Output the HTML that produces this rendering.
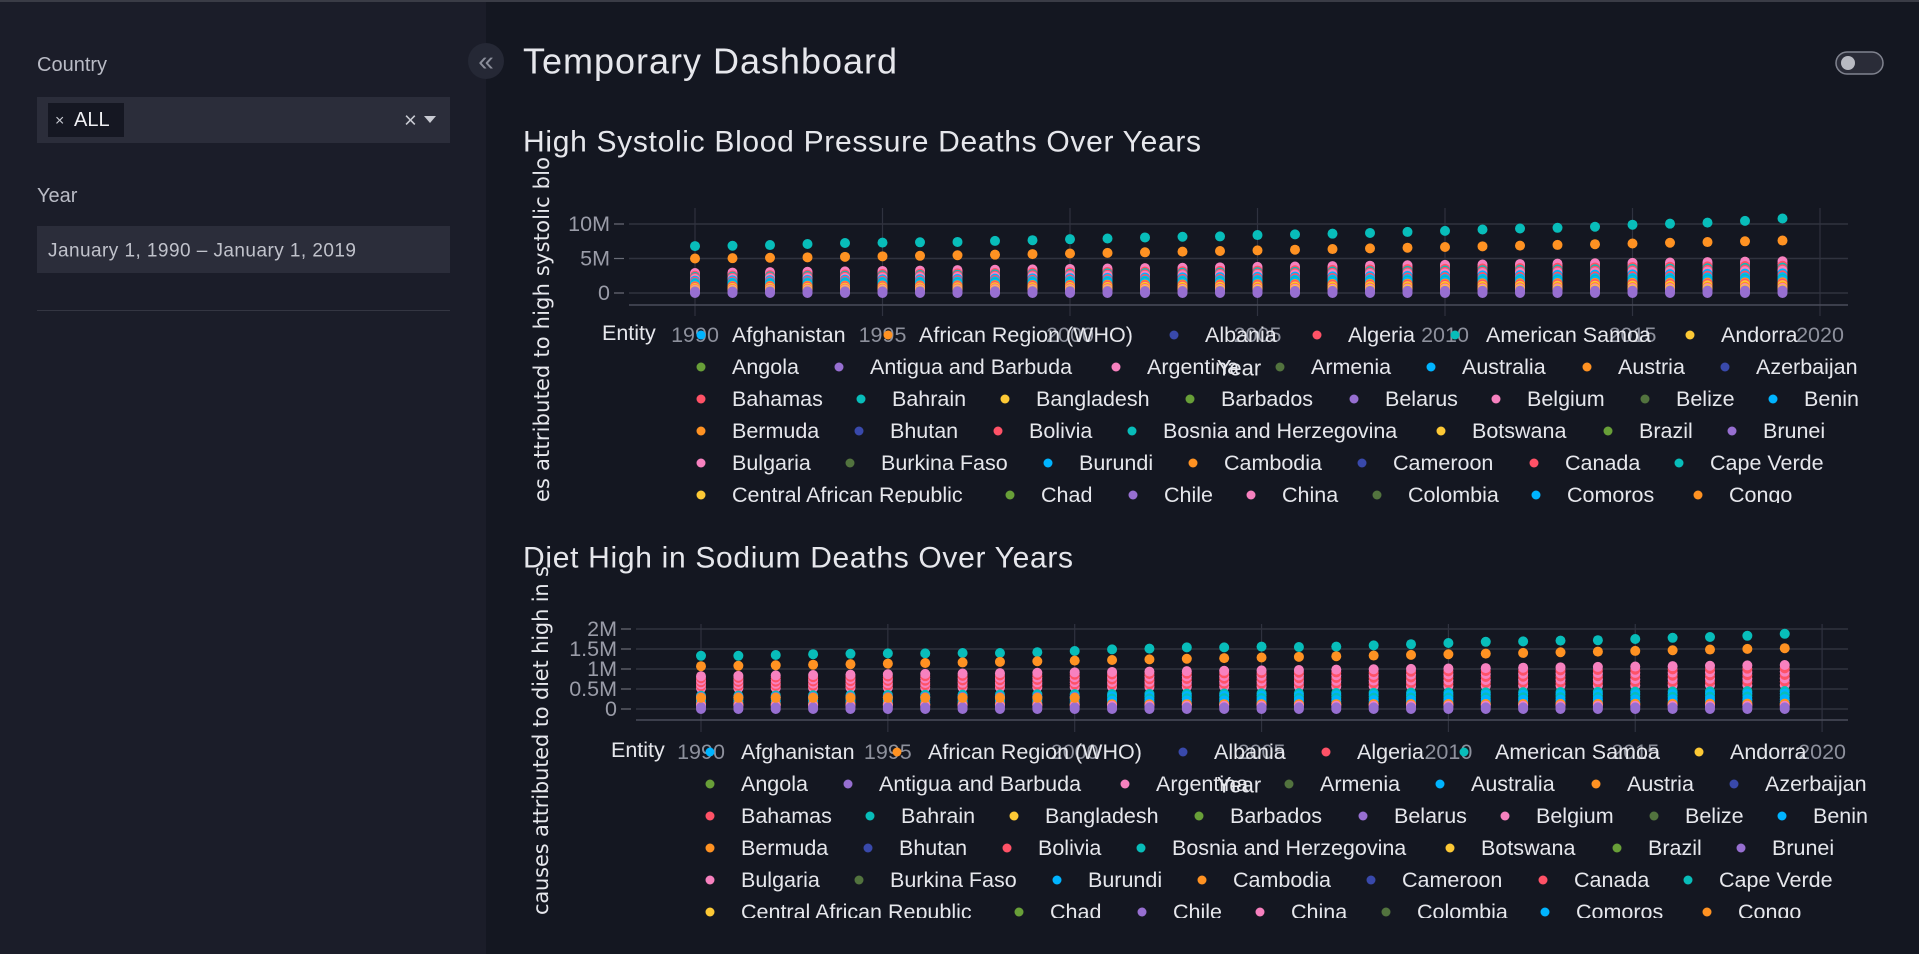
<!DOCTYPE html>
<html><head><meta charset="utf-8">
<style>
html,body{margin:0;padding:0;background:#141721;width:1919px;height:954px;overflow:hidden}
svg{display:block;font-family:"Liberation Sans",sans-serif}
</style></head>
<body>
<svg id="s" width="1919" height="954" viewBox="0 0 1919 954" xmlns="http://www.w3.org/2000/svg">
<rect x="0" y="0" width="1919" height="954" fill="#141721"/>
<rect x="0" y="0" width="486" height="954" fill="#1b1d29"/>
<rect x="0" y="0" width="1919" height="2" fill="#3a3c46"/>
<text x="37" y="65" fill="#b9bbc5" font-size="20" dominant-baseline="central">Country</text>
<rect x="37" y="97" width="413" height="46" fill="#2b2d3a"/>
<rect x="48" y="103" width="76" height="34" fill="#151722"/>
<text x="55" y="121" fill="#c8cad2" font-size="16" dominant-baseline="central">×</text>
<text x="74" y="120" fill="#f0f0f4" font-size="20" dominant-baseline="central">ALL</text>
<text x="404" y="120" fill="#c8cad2" font-size="22" dominant-baseline="central">×</text>
<path d="M424 116 L436 116 L430 123 Z" fill="#c8cad2"/>
<text x="37" y="196" fill="#b9bbc5" font-size="20" dominant-baseline="central">Year</text>
<rect x="37" y="226" width="413" height="47" fill="#2b2d3a"/>
<text x="48" y="251" fill="#c0c2cb" font-size="19" dominant-baseline="central" textLength="308">January 1, 1990 – January 1, 2019</text>
<rect x="37" y="310" width="413" height="1" fill="#343642"/>
<circle cx="486" cy="61" r="18" fill="#252835"/>
<text x="486" y="61" fill="#8a8d99" font-size="28" text-anchor="middle" dominant-baseline="central">«</text>
<text x="523" y="61" fill="#e6e7ec" font-size="36" dominant-baseline="central" textLength="374">Temporary Dashboard</text>
<rect x="1836" y="52" width="47" height="22" rx="11" fill="#2a2c38" stroke="#80838f" stroke-width="1.5"/>
<circle cx="1848" cy="63" r="7" fill="#b8bac2"/>
<text x="523" y="142" fill="#e6e7ec" font-size="30" dominant-baseline="central" textLength="678">High Systolic Blood Pressure Deaths Over Years</text>
<text x="523" y="558" fill="#e6e7ec" font-size="30" dominant-baseline="central" textLength="550">Diet High in Sodium Deaths Over Years</text>
<g id="c1"></g>
<g id="c2"></g>
</svg>
<script>
var NS="http://www.w3.org/2000/svg";
function el(p,t,a,txt){var e=document.createElementNS(NS,t);for(var k in a)e.setAttribute(k,a[k]);if(txt!=null)e.textContent=txt;p.appendChild(e);return e;}
var C=["#00b4ff","#ff9222","#3949ab","#ff5267","#08bdba","#fdc935","#689f38","#976fd1","#f781bf","#52733e"];
var names=["Afghanistan","African Region (WHO)","Albania","Algeria","American Samoa","Andorra","Angola","Antigua and Barbuda","Argentina","Armenia","Australia","Austria","Azerbaijan","Bahamas","Bahrain","Bangladesh","Barbados","Belarus","Belgium","Belize","Benin","Bermuda","Bhutan","Bolivia","Bosnia and Herzegovina","Botswana","Brazil","Brunei","Bulgaria","Burkina Faso","Burundi","Cambodia","Cameroon","Canada","Cape Verde","Central African Republic","Chad","Chile","China","Colombia","Comoros","Congo"];
var rows=[[701,888,1174,1317,1455,1690],[701,839,1116,1280,1431,1587,1725],[701,861,1005,1190,1354,1496,1645,1773],[701,859,998,1132,1441,1608,1732],[701,850,1048,1193,1362,1534,1679],[701,1010,1133,1251,1377,1536,1698]];
var FS="21.5";
function chart(g,o){
  var clipId="cl"+o.id;
  var d=el(g,"defs",{});var cp=el(d,"clipPath",{id:clipId});el(cp,"rect",{x:500,y:o.top-80,width:1400,height:o.clipB-(o.top-80)});
  var gg=el(g,"g",{"clip-path":"url(#"+clipId+")"});
  el(gg,"text",{x:0,y:0,fill:"#e6e7ec","font-size":"21","font-family":"DejaVu Sans, sans-serif",transform:"translate("+(o.ytx)+","+o.yty0+") rotate(-90)","dominant-baseline":"central",textLength:o.ytl},o.yt);
  for(var yr=1990;yr<=2020;yr+=5){var x=o.x0+o.dx*(yr-1990);el(gg,"line",{x1:x,x2:x,y1:o.top,y2:o.vb,stroke:"#2f323f","stroke-width":1.2});}
  o.ticks.forEach(function(t){var y=o.zy-t[0]*o.sy;el(gg,"line",{x1:o.gl,x2:o.pr,y1:y,y2:y,stroke:"#30333f","stroke-width":1.5});
    el(gg,"line",{x1:o.gl-15,x2:o.gl-5,y1:y,y2:y,stroke:"#6a6d78","stroke-width":1.2});
    el(gg,"text",{x:o.gl-19,y:y,fill:"#9a9ca8","font-size":FS,"text-anchor":"end","dominant-baseline":"central"},t[1]);});
  el(gg,"line",{x1:o.gl,x2:o.pr,y1:o.ab,y2:o.ab,stroke:"#4a4d5a","stroke-width":1.5});
  for(var i=0;i<30;i++){var x=o.x0+o.dx*i;var pts=o.data(i,i/29);
    pts.forEach(function(p){el(gg,"circle",{cx:x,cy:o.zy-p[0]*o.sy,r:5,fill:C[p[1]]});});}
  for(var yr=1990;yr<=2020;yr+=5){var x=o.x0+o.dx*(yr-1990);el(gg,"text",{x:x,y:o.ly,fill:"#8d909c","font-size":FS,"text-anchor":"middle","dominant-baseline":"central"},String(yr));}
  el(gg,"text",{x:1239,y:o.ly+33,fill:"#e6e7ec","font-size":"22","text-anchor":"middle","dominant-baseline":"central"},"Year");
  el(gg,"text",{x:602+o.lx,y:o.ly-2,fill:"#e6e7ec","font-size":FS,"dominant-baseline":"central"},"Entity");
  var n=0;
  rows.forEach(function(r,ri){var y=o.ly+ri*32;r.forEach(function(mx){
    el(gg,"circle",{cx:mx+o.lx,cy:y,r:4.5,fill:C[n%10]});
    el(gg,"text",{x:mx+o.lx+31,y:y,fill:"#e6e7ec","font-size":FS,"dominant-baseline":"central"},names[n]);n++;});});
}
var t1=[6.8,6.85,6.95,7.1,7.25,7.3,7.35,7.4,7.55,7.65,7.8,7.9,8.05,8.15,8.2,8.4,8.5,8.6,8.7,8.85,9.0,9.2,9.35,9.45,9.6,9.9,10.05,10.2,10.45,10.8];
var clus1=[[1,8],[.93,8],[.86,3],[.8,4],[.75,3],[.7,8],[.62,0],[.56,3],[.5,0],[.45,4],[.4,0],[.34,1],[.3,3],[.25,5],[.2,1],[.16,8],[.12,5],[.08,7],[.04,7],[0,7]];
chart(document.getElementById("c1"),{id:1,top:208,vb:316,clipB:503,x0:695,dx:37.5,zy:293,sy:6.9,gl:629,pr:1848,ab:305,ly:335,lx:0,
 ticks:[[0,"0"],[5,"5M"],[10,"10M"]],yt:"es attributed to high systolic blo",ytx:542,yty0:502,ytl:345,
 data:function(i,p){var a=[[t1[i],4],[5.0+2.6*Math.pow(p,1.2),1]];var T=2.9+1.7*p;clus1.forEach(function(c){a.push([c[0]*T,c[1]]);});return a;}});
var t2=[1.33,1.33,1.35,1.37,1.38,1.39,1.39,1.40,1.40,1.42,1.45,1.49,1.51,1.54,1.54,1.56,1.55,1.56,1.59,1.62,1.65,1.68,1.69,1.71,1.72,1.75,1.78,1.80,1.83,1.88];
chart(document.getElementById("c2"),{id:2,top:624,vb:732,clipB:918,x0:701,dx:37.37,zy:709,sy:40,gl:636,pr:1848,ab:720,ly:752,lx:9,
 ticks:[[0,"0"],[0.5,"0.5M"],[1,"1M"],[1.5,"1.5M"],[2,"2M"]],yt:"causes attributed to diet high in s",ytx:541,yty0:915,ytl:349,
 data:function(i,p){var a=[[t2[i],4],[1.07+0.45*Math.pow(p,1.1),1]];var top=0.82+0.28*p,bot=0.52+0.08*p;
  for(var k=0;k<=6;k++){var v=bot+(top-bot)*k/6;a.push([v,k%2?3:8]);}
  var bt=0.33+0.12*p;[[bt,4],[bt*0.85,0],[bt*0.7,4],[bt*0.55,0],[bt*0.4,0],[bt*0.3,1],[0.12,1],[0.08,8],[0.04,7],[0,7]].forEach(function(q){a.push(q);});
  if(p<0.35){a.push([0.3,7]);a.push([0.28,1]);}
  return a;}});
</script>
</body></html>
